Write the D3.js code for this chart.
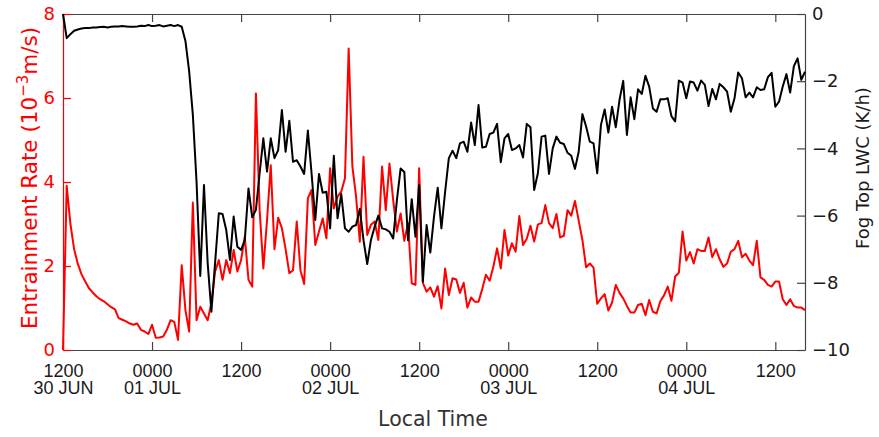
<!DOCTYPE html>
<html>
<head>
<meta charset="utf-8">
<script src="https://cdn.jsdelivr.net/npm/d3@7"></script>
<style>
  body { margin: 0; background: #fff; }
  svg { display: block; font-family: "DejaVu Sans", sans-serif; }
</style>
</head>
<body>
<div id="chart"></div>
<script>
// half-hourly samples starting 30 JUN 1200 local time
const stepHours = 0.5;

const entrainmentRate = [
  0, 3.91, 3.0, 2.4, 2.05, 1.8, 1.63, 1.47, 1.37, 1.28,
  1.21, 1.16, 1.09, 1.02, 0.97, 0.76, 0.72, 0.68, 0.63, 0.6,
  0.63, 0.48, 0.44, 0.38, 0.6, 0.29, 0.3, 0.32, 0.48, 0.71,
  0.67, 0.24, 2.02, 0.95, 0.44, 3.51, 0.71, 1.03, 0.87, 0.71,
  1.12, 1.87, 2.14, 1.67, 2.14, 1.83, 2.38, 1.87, 2.14, 2.7,
  1.67, 1.51, 6.11, 3.33, 1.94, 3.1, 4.4, 2.4, 3.15, 2.9,
  2.4, 1.83, 1.9, 3.06, 1.9, 1.57, 3.61, 3.81, 2.5, 2.82,
  3.13, 2.66, 4.33, 3.37, 3.65, 3.77, 4.09, 7.18, 4.37, 3.65,
  2.58, 4.6, 2.74, 2.98, 3.06, 2.62, 4.37, 3.33, 4.44, 3.57,
  2.82, 3.25, 2.6, 3.02, 1.59, 1.55, 4.33, 1.6, 1.39, 1.49,
  1.27, 1.52, 0.99, 1.94, 1.31, 1.71, 1.68, 1.36, 1.6, 1.01,
  1.25, 1.15, 1.15, 1.45, 1.79, 1.65, 1.98, 2.42, 1.94, 2.86,
  2.25, 2.54, 2.34, 3.19, 2.5, 2.65, 2.96, 2.58, 2.99, 3.02,
  3.45, 3.02, 2.9, 3.24, 2.68, 2.72, 3.33, 3.2, 3.55, 3.08,
  2.62, 1.97, 2.06, 1.96, 1.1, 1.23, 1.33, 0.94, 1.13, 1.55,
  1.36, 1.23, 1.05, 0.89, 0.89, 1.07, 1.1, 0.83, 1.19, 0.91,
  0.87, 1.16, 1.3, 1.51, 1.17, 1.75, 1.84, 2.82, 2.13, 2.33,
  2.06, 2.4, 2.36, 2.36, 2.68, 2.21, 2.4, 2.16, 1.98, 2.06,
  2.34, 2.4, 2.6, 2.21, 2.29, 2.13, 2.02, 2.6, 1.73, 1.67,
  1.55, 1.51, 1.63, 1.63, 1.21, 1.07, 1.21, 1.05, 1.01, 1.01,
  0.95
];

const fogTopLwc = [
  0, -0.72, -0.6, -0.5, -0.46, -0.43, -0.42, -0.42, -0.4, -0.4,
  -0.39, -0.38, -0.4, -0.38, -0.37, -0.37, -0.36, -0.37, -0.38, -0.38,
  -0.37, -0.35, -0.36, -0.33, -0.36, -0.35, -0.33, -0.37, -0.35, -0.33,
  -0.36, -0.33, -0.38, -0.8, -1.7, -3.0, -5.0, -7.8, -5.09, -7.42,
  -8.86, -7.4, -5.93, -5.95, -6.43, -7.32, -6.03, -6.93, -7.02, -6.73,
  -5.19, -6.05, -5.83, -4.74, -3.7, -4.69, -3.7, -4.29, -4.05, -2.86,
  -4.1, -3.18, -4.4, -4.35, -4.54, -4.76, -3.47, -4.74, -6.13, -4.76,
  -5.32, -5.29, -6.38, -4.22, -6.08, -5.36, -6.38, -6.48, -6.33, -6.28,
  -5.8, -6.73, -7.44, -6.73, -6.33, -6.0, -6.38, -6.41, -6.48, -6.68,
  -5.54, -4.6, -4.7, -6.73, -5.51, -6.63, -5.09, -7.97, -6.28, -7.1,
  -6.03, -5.17, -6.38, -5.29, -4.29, -4.07, -4.29, -3.85, -3.8, -4.1,
  -3.23, -3.9, -2.71, -3.97, -3.95, -3.57, -3.53, -3.27, -4.41, -3.7,
  -3.57, -4.05, -4.0, -3.9, -4.27, -3.27, -3.37, -5.24, -4.74, -3.65,
  -3.62, -4.76, -4.0, -3.65, -3.83, -3.87, -4.13, -4.22, -4.61, -4.1,
  -2.98, -3.35, -3.8, -3.85, -4.74, -3.3, -2.84, -3.53, -2.76, -3.37,
  -2.56, -1.99, -3.6, -2.48, -3.13, -2.24, -2.38, -1.84, -2.16, -2.81,
  -2.91, -2.54, -2.54, -2.51, -3.04, -3.2, -1.98, -2.04, -2.51, -2.01,
  -2.04, -2.28, -1.98, -2.11, -2.74, -2.23, -2.54, -2.08, -2.18, -2.31,
  -2.91, -2.51, -1.74, -1.91, -2.48, -2.34, -2.48, -2.18, -2.26, -2.24,
  -1.88, -1.75, -2.76, -2.61, -2.16, -1.79, -2.34, -1.55, -1.32, -1.96,
  -1.72
];

// tick positions in hours after 30 JUN 1200
const tickHours = [0, 12, 24, 36, 48, 60, 72, 84, 96];
const tickTimes = ["1200", "0000", "1200", "0000", "1200", "0000", "1200", "0000", "1200"];
const tickDays = ["30 JUN", "01 JUL", "", "02 JUL", "", "03 JUL", "", "04 JUL", ""];
const leftTicks = [0, 2, 4, 6, 8];
const rightTicks = [0, -2, -4, -6, -8, -10];

const W = 879, H = 437;
const margin = {top: 14, right: 74, bottom: 87, left: 63};
const width = W - margin.left - margin.right;
const height = H - margin.top - margin.bottom;
const axisColor = "#444";
const textColor = "#1a1a1a";

const svg = d3.select("#chart").append("svg")
    .attr("width", W)
    .attr("height", H);
const g = svg.append("g")
    .attr("transform", "translate(" + margin.left + "," + margin.top + ")");

const x = d3.scaleLinear().domain([0, 100]).range([0, width]);
const yL = d3.scaleLinear().domain([0, 8]).range([height, 0]);
const yR = d3.scaleLinear().domain([-10, 0]).range([height, 0]);

// top axis, ticks only
g.append("g")
    .call(d3.axisTop(x).tickValues(tickHours).tickSize(-8).tickSizeOuter(0).tickFormat(""))
    .call(a => a.selectAll("line, path").attr("stroke", axisColor).attr("stroke-width", 1.2));

// bottom axis with two-line labels
const bottom = g.append("g")
    .attr("transform", "translate(0," + height + ")")
    .call(d3.axisBottom(x).tickValues(tickHours).tickSize(-8).tickSizeOuter(0).tickFormat(""));
bottom.selectAll("line, path").attr("stroke", axisColor).attr("stroke-width", 1.2);
bottom.selectAll(".tick text").remove();
bottom.selectAll(".tick").each(function(d, i) {
    const t = d3.select(this).append("text")
        .attr("fill", textColor)
        .attr("font-size", 18)
        .attr("text-anchor", "middle");
    t.append("tspan").attr("x", 0).attr("y", 26.7).text(tickTimes[i]);
    t.append("tspan").attr("x", 0).attr("y", 44).text(tickDays[i]);
});

// right axis
g.append("g")
    .attr("transform", "translate(" + width + ",0)")
    .call(d3.axisRight(yR).tickValues(rightTicks).tickSize(-8).tickSizeOuter(0).tickPadding(7))
    .call(a => a.selectAll("line, path").attr("stroke", axisColor).attr("stroke-width", 1.2))
    .call(a => a.selectAll("text").attr("fill", textColor).attr("font-size", 18)
        .attr("font-family", "DejaVu Sans"));

// left axis (red)
g.append("g")
    .call(d3.axisLeft(yL).tickValues(leftTicks).tickSize(-8).tickSizeOuter(0).tickPadding(8))
    .call(a => a.selectAll("line, path").attr("stroke", "red").attr("stroke-width", 1.2))
    .call(a => a.selectAll("text").attr("fill", "red").attr("font-size", 18)
        .attr("font-family", "DejaVu Sans"));

// lines
const redLine = d3.line()
    .x((d, i) => x(i * stepHours))
    .y(d => yL(d));
const blackLine = d3.line()
    .x((d, i) => x(i * stepHours))
    .y(d => yR(d));

g.append("path")
    .datum(entrainmentRate)
    .attr("d", redLine)
    .attr("fill", "none")
    .attr("stroke", "red")
    .attr("stroke-width", 2)
    .attr("stroke-linejoin", "round");

g.append("path")
    .datum(fogTopLwc)
    .attr("d", blackLine)
    .attr("fill", "none")
    .attr("stroke", "black")
    .attr("stroke-width", 2)
    .attr("stroke-linejoin", "round");

// axis titles
svg.append("text")
    .attr("transform", "translate(36.5,178) rotate(-90)")
    .attr("text-anchor", "middle")
    .attr("fill", "red")
    .attr("font-size", 21.5)
    .call(t => {
        t.append("tspan").text("Entrainment Rate (10");
        t.append("tspan").attr("font-size", 15).attr("dy", -9).text("\u22123");
        t.append("tspan").attr("dy", 9).text("m/s)");
    });

svg.append("text")
    .attr("transform", "translate(869,168) rotate(-90)")
    .attr("text-anchor", "middle")
    .attr("fill", textColor)
    .attr("font-size", 18)
    .text("Fog Top LWC (K/h)");

svg.append("text")
    .attr("x", 433)
    .attr("y", 426)
    .attr("text-anchor", "middle")
    .attr("fill", "#333")
    .attr("font-size", 20.5)
    .text("Local Time");
</script>
</body>
</html>
